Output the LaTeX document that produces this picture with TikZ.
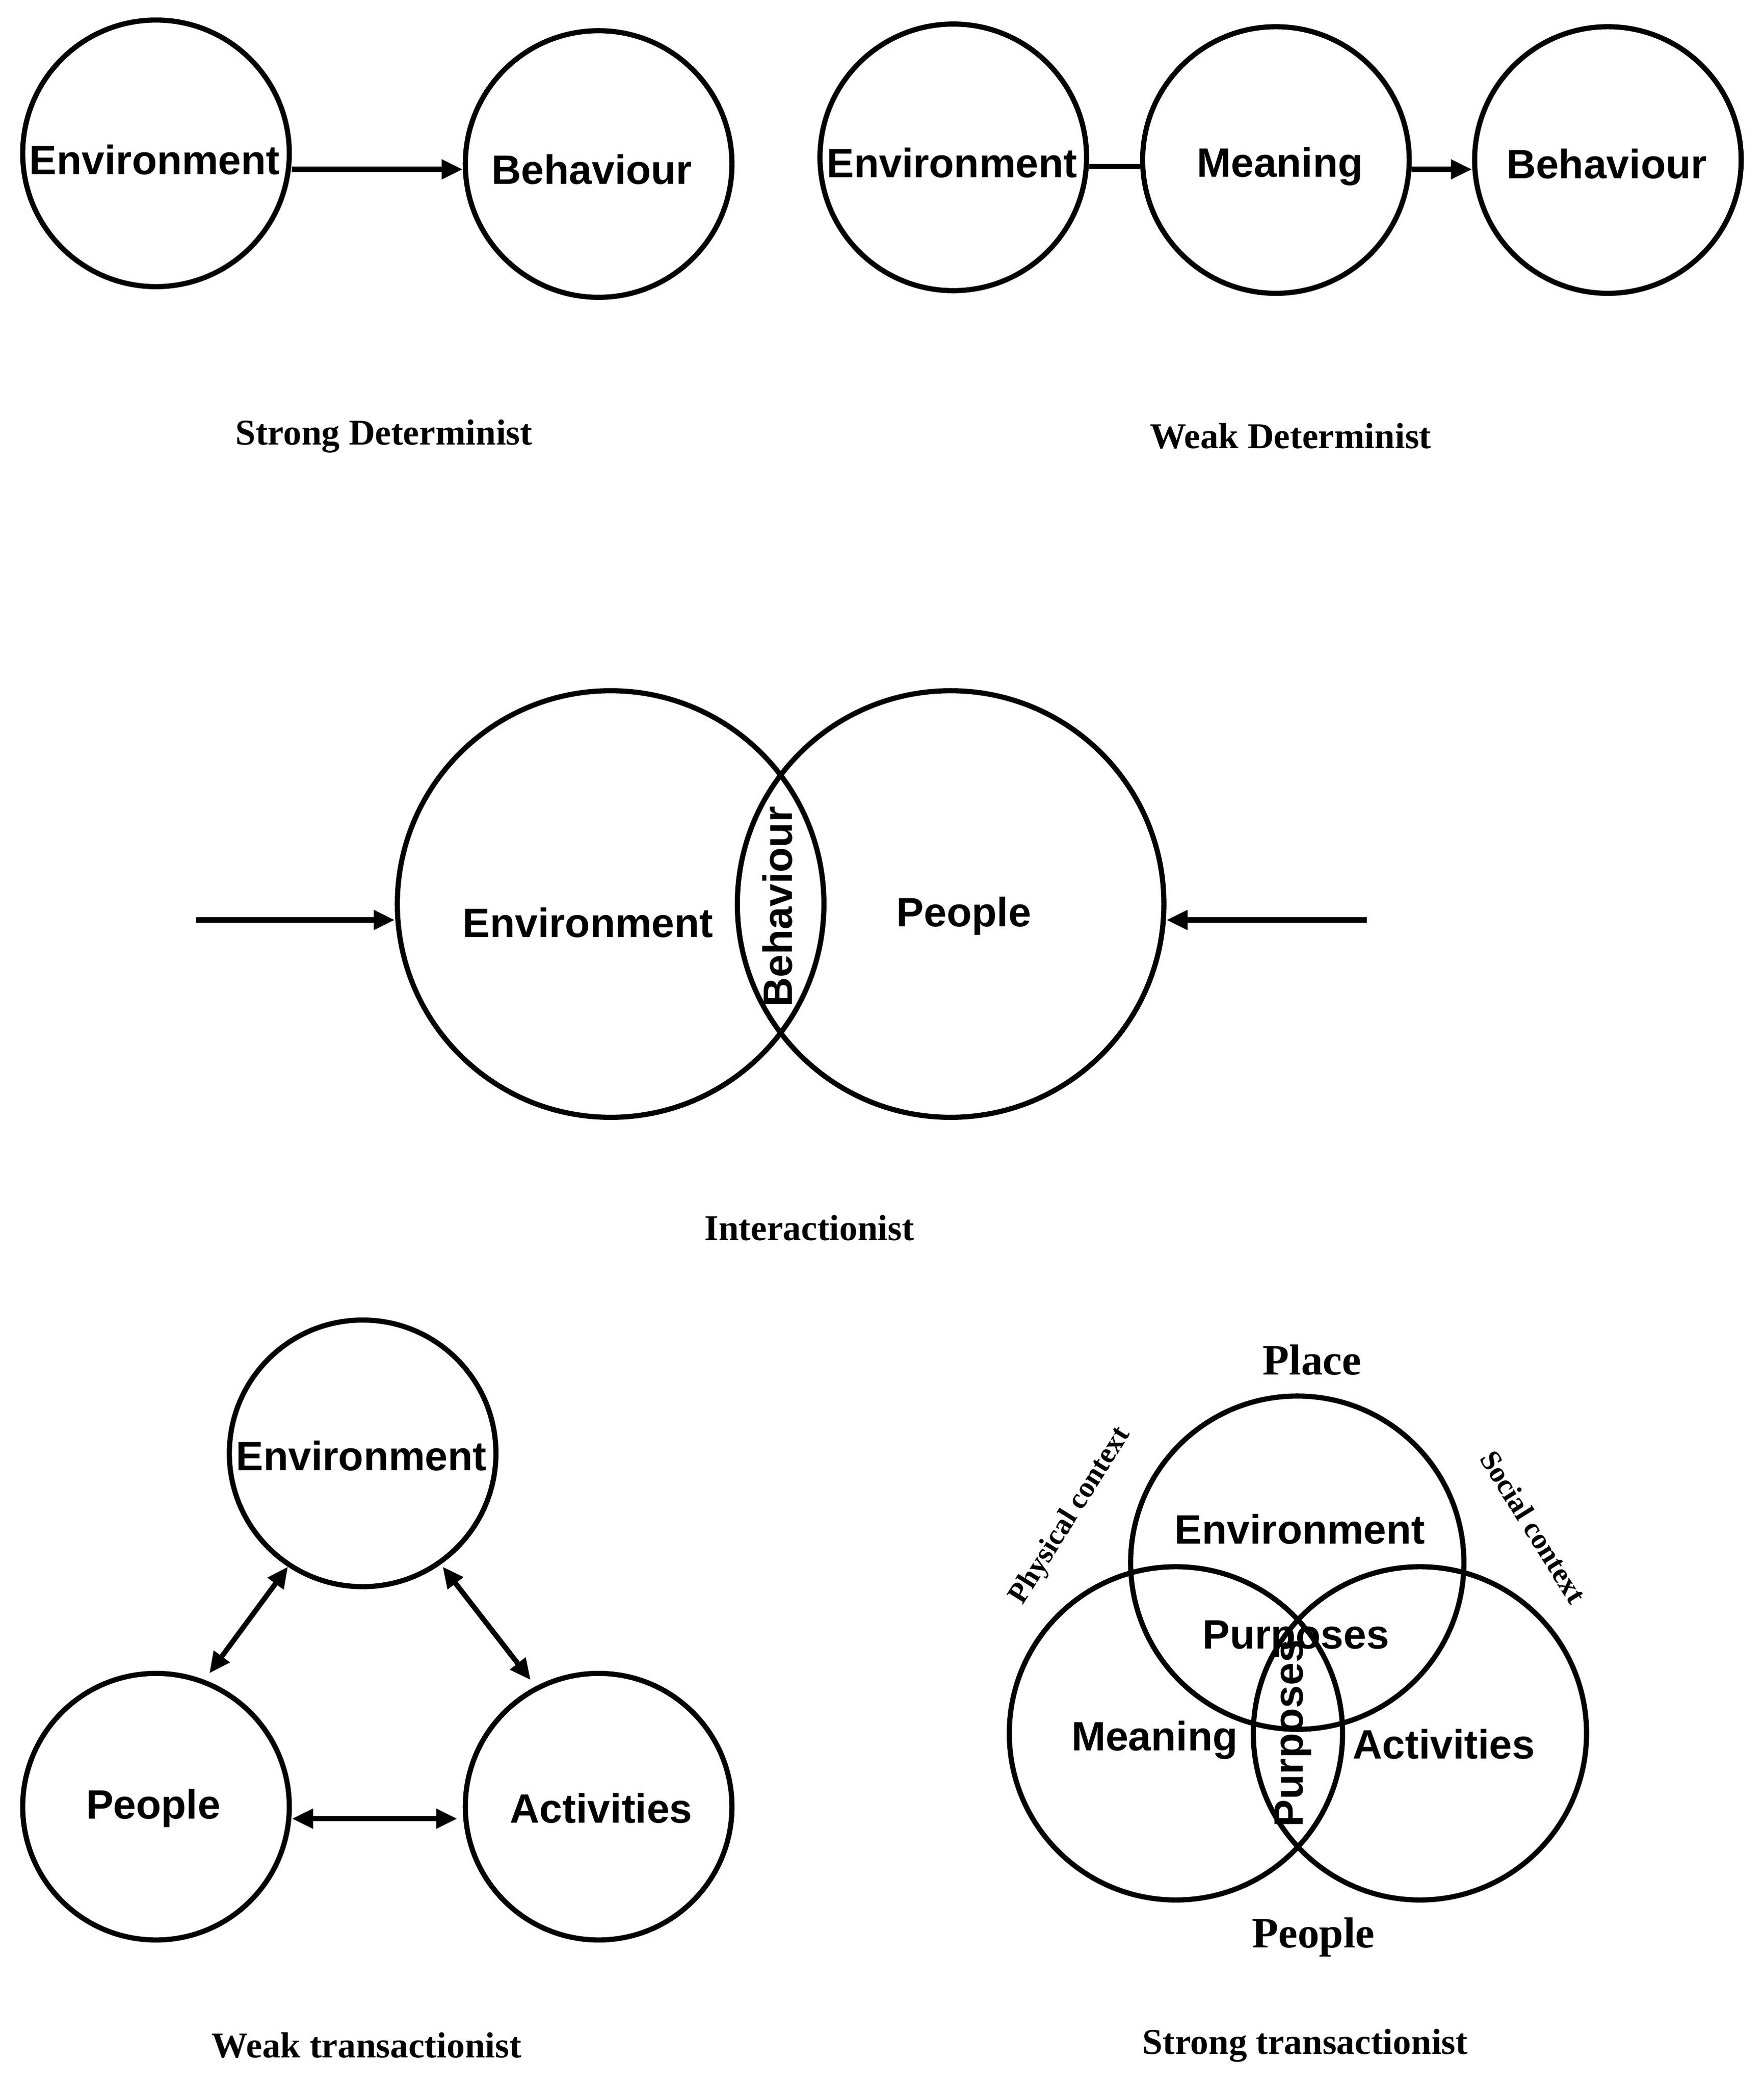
\documentclass[tikz,border=0pt]{standalone}
\usepackage{fontspec}
\setmainfont{Liberation Sans}
\newfontfamily\capf{Liberation Serif}
\usetikzlibrary{arrows.meta}
\begin{document}
\begin{tikzpicture}[x=0.02cm,y=-0.02cm,line width=2.2pt,
  c/.style={circle,draw,line width=2.2pt,inner sep=0pt},
  t/.style={font=\fontsize{17.5}{20}\selectfont\bfseries},
  lbl/.style={font=\capf\fontsize{15.5}{18}\selectfont\bfseries},
  big/.style={font=\capf\fontsize{18.5}{22}\selectfont\bfseries},
  ctx/.style={font=\capf\fontsize{12.5}{15}\selectfont\bfseries},
  ar/.style={-{Triangle[length=9pt,width=8pt]}},
  dar/.style={{Triangle[length=9pt,width=8pt]}-{Triangle[length=9pt,width=8pt]}}]
\useasboundingbox (0,0) rectangle (1323,1566);
% Strong determinist
\node[c,minimum size=4cm] (se) at (117,115) {};
\node[t] at (116,120) {Environment};
\node[c,minimum size=4cm] (sb) at (449,123) {};
\node[t] at (444,127) {Behaviour};
\draw[ar] (se.east|-0,127) -- (sb.west|-0,127);
\node[lbl] (l1) at (288,327) {Strong Determinist};
% Weak determinist
\node[c,minimum size=4cm] (we) at (715,118) {};
\node[t] at (714,122) {Environment};
\node[c,minimum size=4cm] (wm) at (957,120) {};
\node[t] at (960,125) {Meaning};
\node[c,minimum size=4cm] (wb) at (1206,120) {};
\node[t] at (1205,123) {Behaviour};
\draw (we.east|-0,125) -- (wm.west|-0,125);
\draw[ar] (wm.east|-0,127) -- (wb.west|-0,127);
\node[lbl] (l2) at (968,327) {Weak Determinist};
% Interactionist
\node[c,minimum size=6.4cm] (ie) at (458,678) {};
\node[c,minimum size=6.4cm] (ip) at (713,678) {};
\node[t] at (441,692) {Environment};
\node[t] at (723,687) {People};
\node[t,rotate=90] at (583,680) {Behaviour};
\coordinate (a1) at (147,690);
\coordinate (a2) at (1025,690);
\draw[ar] (a1) -- (ie.west|-a1);
\draw[ar] (a2) -- (ip.east|-a2);
\node[lbl] (l3) at (607,921) {Interactionist};
% Weak transactionist
\node[c,minimum size=4cm] (te) at (272,1090) {};
\node[t] at (271,1092) {Environment};
\node[c,minimum size=4cm] (tp) at (117,1355) {};
\node[t] at (115,1356) {People};
\node[c,minimum size=4cm] (ta) at (449,1355) {};
\node[t] at (451,1356) {Activities};
\draw[dar] (216,1175) -- (157,1255);
\draw[dar] (332,1175) -- (398,1260);
\draw[dar] (219,1364) -- (343,1364);
\node[lbl] (l4) at (275,1534) {Weak transactionist};
% Strong transactionist
\node[c,minimum size=5cm] (sp) at (973,1172) {};
\node[c,minimum size=5cm] (sm) at (882,1300) {};
\node[c,minimum size=5cm] (sa) at (1065,1300) {};
\node[big] at (984,1020) {Place};
\node[big] at (985,1453) {People};
\node[t] at (975,1147) {Environment};
\node[t] at (972,1229) {Purposes};
\node[t] at (866,1305) {Meaning};
\node[t] at (1083,1308) {Activities};
\node[t,rotate=90] at (970,1300) {Purposes};
\node[ctx,rotate=58] at (803,1137) {Physical context};
\node[ctx,rotate=-58] at (1150,1145) {Social context};
\node[lbl] (l5) at (979,1534) {Strong transactionist};
\end{tikzpicture}
\end{document}
